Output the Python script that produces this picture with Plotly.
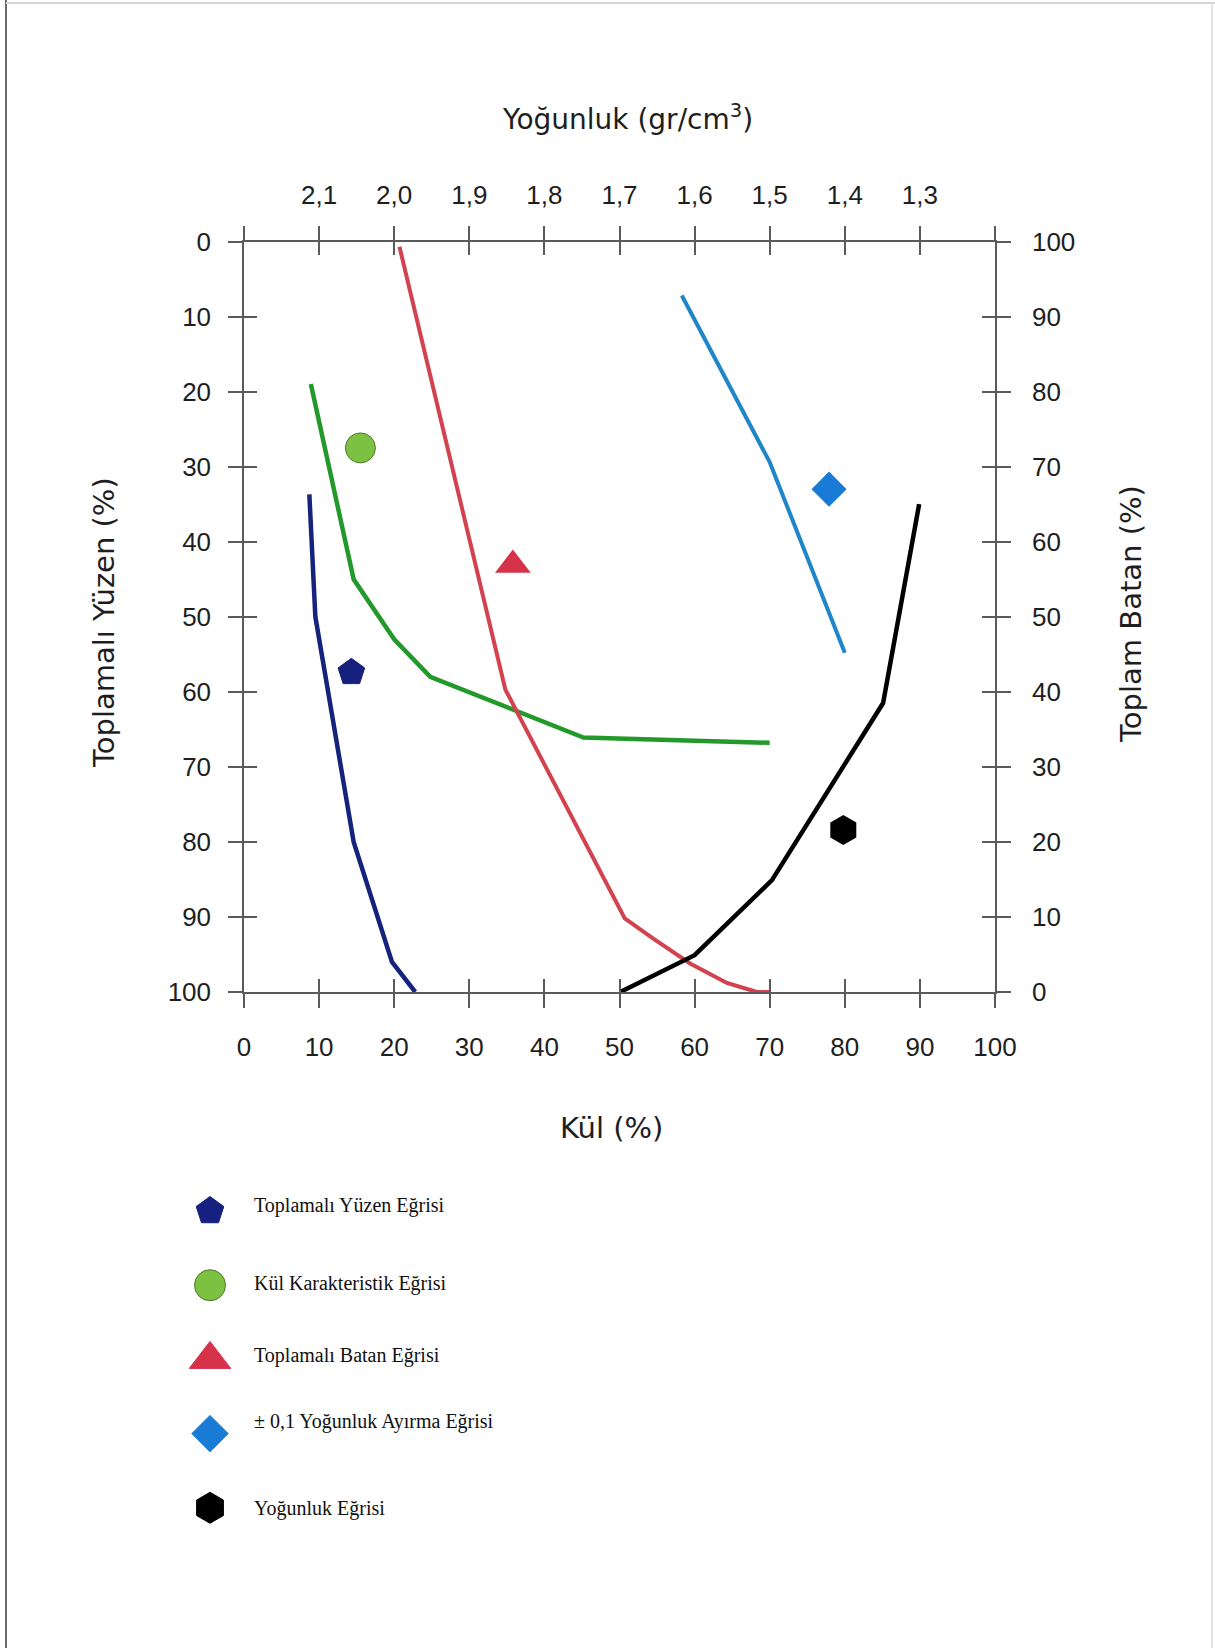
import plotly.graph_objects as go

W, H = 1215, 1648

# ---------------- data ----------------
kul_ticks = list(range(0, 101, 10))            # Kül (%) / percent ticks
yuzde_ticks = list(range(0, 101, 10))
yogunluk_pos = list(range(10, 91, 10))
yogunluk_labels = ["2,1", "2,0", "1,9", "1,8", "1,7", "1,6", "1,5", "1,4", "1,3"]

# left axis (Toplamalı Yüzen %, 0 at top)
yuzen_x = [8.7, 9.5, 14.6, 19.7, 22.8]
yuzen_y = [33.7, 50.0, 80.0, 96.0, 100.0]

kul_kar_x = [8.9, 14.6, 20.0, 24.8, 45.2, 70.0]
kul_kar_y = [19.0, 45.0, 53.0, 58.0, 66.1, 66.8]

# right axis (Toplam Batan %, 0 at bottom)
batan_x = [20.7, 34.8, 50.7, 54.5, 59.4, 64.3, 68.3, 70.0]
batan_y = [99.3, 40.3, 9.8, 7.1, 3.8, 1.2, 0.0, 0.0]

ayirma_x = [58.3, 70.0, 80.0]
ayirma_y = [92.8, 70.6, 45.2]

yogunluk_x = [50.1, 60.0, 70.3, 85.1, 89.9]
yogunluk_y = [0.0, 4.9, 14.9, 38.5, 65.0]

# curve identification symbols inside the plot
left_sym_x = [14.3, 15.5]          # pentagon, circle (left axis)
left_sym_y = [57.4, 27.5]
right_sym_x = [35.8, 77.9, 79.8]   # triangle, diamond, hexagon (right axis)
right_sym_y = [56.9, 67.0, 21.6]

legend_names = [
    "Toplamalı Yüzen Eğrisi",
    "Kül Karakteristik Eğrisi",
    "Toplamalı Batan Eğrisi",
    "± 0,1 Yoğunluk Ayırma Eğrisi",
    "Yoğunluk Eğrisi",
]

# ---------------- styles ----------------
C_NAVY = "#15237c"
C_GREEN = "#23992b"
C_RED = "#d2424f"
C_CYAN = "#1f86c8"
C_BLACK = "#000000"
C_PENT = "#16207e"
C_CIRC = "#7dc142"
C_TRI = "#d6324a"
C_DIA = "#1a7bd6"
C_HEX = "#000000"
AX = "#5a5a5a"

leg_symbols = ["pentagon", "circle", "triangle-up", "diamond", "hexagon"]
leg_colors = [C_PENT, C_CIRC, C_TRI, C_DIA, C_HEX]
leg_sizes = [29, 31, 36, 28, 31]
leg_line_colors = [C_PENT, "#4d7a2c", C_TRI, C_DIA, C_HEX]

PL, PR, PT, PB = 244, 995, 241.5, 992


def fx(p):
    return p / W


def fy(p):
    return 1 - p / H


TICKFONT = dict(family="Liberation Sans, Arial, sans-serif", size=26, color="#1e1e1e")
TITLEFONT = dict(family="DejaVu Sans, sans-serif", size=29, color="#1e1e1e")
LEGFONT = dict(family="Liberation Serif, Times New Roman, serif", size=20, color="#111111")

fig = go.Figure()

# main curves
fig.add_trace(go.Scatter(x=yuzen_x, y=yuzen_y, mode="lines", xaxis="x", yaxis="y",
                         line=dict(color=C_NAVY, width=4.5), showlegend=False, hoverinfo="skip"))
fig.add_trace(go.Scatter(x=kul_kar_x, y=kul_kar_y, mode="lines", xaxis="x", yaxis="y",
                         line=dict(color=C_GREEN, width=4.5), showlegend=False, hoverinfo="skip"))
fig.add_trace(go.Scatter(x=batan_x, y=batan_y, mode="lines", xaxis="x", yaxis="y2",
                         line=dict(color=C_RED, width=4), showlegend=False, hoverinfo="skip"))
fig.add_trace(go.Scatter(x=ayirma_x, y=ayirma_y, mode="lines", xaxis="x6", yaxis="y2",
                         line=dict(color=C_CYAN, width=4), showlegend=False, hoverinfo="skip"))
fig.add_trace(go.Scatter(x=yogunluk_x, y=yogunluk_y, mode="lines", xaxis="x2", yaxis="y2",
                         line=dict(color=C_BLACK, width=4.5), showlegend=False, hoverinfo="skip"))

# identification symbols in the plot
fig.add_trace(go.Scatter(x=left_sym_x, y=left_sym_y, mode="markers", xaxis="x3", yaxis="y3",
                         marker=dict(symbol=["pentagon", "circle"], size=[28, 30],
                                     color=[C_PENT, C_CIRC], opacity=1,
                                     line=dict(color=[C_PENT, "#4d7a2c"], width=1)),
                         showlegend=False, hoverinfo="skip"))
fig.add_trace(go.Scatter(x=right_sym_x, y=right_sym_y, mode="markers", xaxis="x4", yaxis="y4",
                         marker=dict(symbol=["triangle-up", "diamond", "hexagon"], size=[31, 27, 30],
                                     color=[C_TRI, C_DIA, C_HEX], opacity=1, line=dict(width=0)),
                         showlegend=False, hoverinfo="skip"))

# manual legend symbols
leg_idx = list(range(len(legend_names)))
fig.add_trace(go.Scatter(x=[0] * len(leg_idx), y=leg_idx, mode="markers", xaxis="x5", yaxis="y5",
                         marker=dict(symbol=leg_symbols, size=leg_sizes, color=leg_colors, opacity=1,
                                     line=dict(color=leg_line_colors, width=1)),
                         showlegend=False, hoverinfo="skip"))

common = dict(range=[0, 100], tickvals=kul_ticks, showgrid=False, zeroline=False,
              tickcolor=AX, tickwidth=1.5, linecolor=AX, linewidth=1.5,
              tickfont=TICKFONT, fixedrange=True, automargin=False)
ydom = [fy(PB), fy(PT)]
xdom = [fx(PL), fx(PR)]

layout = dict(
    width=W, height=H, autosize=False,
    margin=dict(l=0, r=0, t=0, b=0, pad=0),
    paper_bgcolor="white", plot_bgcolor="rgba(0,0,0,0)",
    showlegend=False,
    xaxis=dict(common, domain=xdom, anchor="y", side="bottom", ticks="outside", ticklen=14,
               showline=True, ticklabelstandoff=17),
    xaxis2=dict(common, overlaying="x", anchor="y", side="top", ticks="outside", ticklen=14,
                showline=True, showticklabels=False),
    xaxis6=dict(common, overlaying="x", anchor="y", side="top", ticks="", showline=False,
                tickvals=yogunluk_pos, ticktext=yogunluk_labels, ticklabelstandoff=31),
    xaxis3=dict(common, overlaying="x", anchor="y", side="bottom", ticks="inside", ticklen=13,
                showline=False, showticklabels=False),
    xaxis4=dict(common, overlaying="x", anchor="y", side="top", ticks="inside", ticklen=13,
                showline=False, showticklabels=False),
    yaxis=dict(common, domain=ydom, range=[100, 0], tickvals=yuzde_ticks, anchor="x", side="left",
               ticks="outside", ticklen=14, showline=True, ticklabelstandoff=12),
    yaxis2=dict(common, overlaying="y", range=[0, 100], tickvals=yuzde_ticks, anchor="x",
                side="right", ticks="outside", ticklen=14, showline=True, ticklabelstandoff=16),
    yaxis3=dict(common, overlaying="y", range=[100, 0], tickvals=yuzde_ticks, anchor="x",
                side="left", ticks="inside", ticklen=13, showline=False, showticklabels=False),
    yaxis4=dict(common, overlaying="y", range=[0, 100], tickvals=yuzde_ticks, anchor="x",
                side="right", ticks="inside", ticklen=13, showline=False, showticklabels=False),
    xaxis5=dict(domain=[fx(180), fx(240)], range=[-1, 1], visible=False, fixedrange=True,
                anchor="y5", automargin=False),
    yaxis5=dict(domain=[fy(1211 + 74.2 * 4.5), fy(1211 - 74.2 * 0.5)], range=[4.5, -0.5],
                visible=False, fixedrange=True, anchor="x5", automargin=False),
)
fig.update_layout(**layout)

# axis titles
ann = [
    dict(text="Kül (%)", x=fx(612), y=fy(1128), textangle=0, size=29),
    dict(text="Yoğunluk (gr/cm<sup>3</sup>)", x=fx(627), y=fy(117), textangle=0, size=28),
    dict(text="Toplamalı Yüzen (%)", x=fx(104), y=fy(623), textangle=-90, size=29),
    dict(text="Toplam Batan (%)", x=fx(1131), y=fy(614), textangle=-90, size=29),
]
for a in ann:
    sz = a.pop("size")
    fig.add_annotation(xref="paper", yref="paper", xanchor="center", yanchor="middle",
                       showarrow=False, font=dict(TITLEFONT, size=sz), **a)

# legend labels
leg_label_y = [1205, 1283, 1355, 1421, 1508]
for name, ly in zip(legend_names, leg_label_y):
    fig.add_annotation(text=name, xref="paper", yref="paper", x=fx(252), y=fy(ly),
                       xanchor="left", yanchor="middle", showarrow=False, font=LEGFONT)

# thin page frame
fig.add_shape(type="line", xref="paper", yref="paper", x0=fx(6), x1=fx(6), y0=0, y1=1,
              line=dict(color="#6a6a6a", width=2))
fig.add_shape(type="line", xref="paper", yref="paper", x0=fx(6), x1=1, y0=fy(3), y1=fy(3),
              line=dict(color="#d4d4d4", width=2))
fig.add_shape(type="line", xref="paper", yref="paper", x0=fx(1212), x1=fx(1212), y0=0, y1=fy(3),
              line=dict(color="#e2e2e2", width=2))

fig.write_html(
    "out.html",
    config={"displayModeBar": False},
    post_script="document.body.style.margin='0';document.body.style.padding='0';"
                "document.documentElement.style.overflow='hidden';",
)
